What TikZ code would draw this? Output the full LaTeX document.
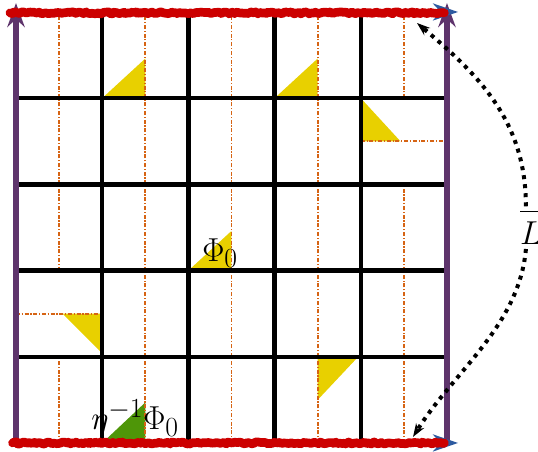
\documentclass[tikz,border=0pt]{standalone}
\usetikzlibrary{arrows.meta,decorations.pathmorphing}
\definecolor{gridpurple}{RGB}{94,52,108}
\definecolor{jagred}{RGB}{204,0,0}
\definecolor{tipblue}{RGB}{45,90,160}
\definecolor{dashorange}{RGB}{214,100,20}
\definecolor{triyellow}{RGB}{232,208,0}
\definecolor{trigreen}{RGB}{78,150,8}
\begin{document}
\begin{tikzpicture}[x=64.65pt,y=64.65pt,
  gridline/.style={line width=3.2pt, black},
  halfline/.style={draw=dashorange, line width=1.4pt, dash pattern=on 3pt off 1.3pt on 0.9pt off 1.3pt},
  sideline/.style={gridpurple, line width=4.5pt, -{Stealth[length=18pt,width=13pt,inset=6pt]}},
  bluetip/.style={tipblue, line width=1pt, -{Stealth[length=19pt,width=13pt,inset=6pt]}},
  jagline/.style={jagred, line width=6.5pt, line join=round, line cap=round, decorate, decoration={random steps,segment length=1.5pt,amplitude=0.8pt}},
  yellowtri/.style={fill=triyellow},
  greentri/.style={fill=trigreen},
  dotcurve/.style={black, line width=3pt, dash pattern=on 3pt off 3.8pt, -{Stealth[length=10pt,width=7pt]}},
  biglabel/.style={inner sep=0pt, anchor=base west, font=\fontsize{24.88}{30}\selectfont},
]
\useasboundingbox (-0.1856,-0.1044) rectangle (6.056,5.139);

% triangles
\fill[yellowtri] (1,4) -- (1.5,4) -- (1.5,4.46) -- cycle;
\fill[yellowtri] (3,4) -- (3.5,4) -- (3.5,4.46) -- cycle;
\fill[yellowtri] (4,4) -- (4,3.5) -- (4.46,3.5) -- cycle;
\fill[yellowtri] (2,2) -- (2.5,2) -- (2.5,2.46) -- cycle;
\fill[yellowtri] (0.54,1.5) -- (1,1.5) -- (1,1.04) -- cycle;
\fill[yellowtri] (3.5,1) -- (3.97,1) -- (3.5,0.5) -- cycle;
\fill[greentri] (1,0) -- (1.5,0) -- (1.5,0.47) -- cycle;

% orange dash-dot half lines
\foreach \r in {0,...,4}{
  \foreach \c in {0,...,4}{
    \pgfmathtruncatemacro{\omitcell}{(\c==4 && \r==3) || (\c==0 && \r==1) ? 1 : 0}
    \ifnum\omitcell=0
      \draw[halfline] (\c+0.5,\r) -- (\c+0.5,\r+1);
    \fi
  }
}
\draw[halfline] (4,3.5) -- (5,3.5);
\draw[halfline] (0,1.5) -- (1,1.5);

% black grid
\foreach \k in {1,...,4}{
  \draw[gridline] (0,\k) -- (5,\k);
  \draw[gridline] (\k,0) -- (\k,5);
}

% purple sides
\draw[sideline] (0,0) -- (0,5.104);
\draw[sideline] (5,0) -- (5,5.104);

% blue tips and red jagged lines
\draw[bluetip] (0,5) -- (5.128,5);
\draw[bluetip] (0,0) -- (5.128,0);
\draw[jagline] (-0.07,4.99) -- (4.97,4.99);
\draw[jagline] (-0.04,0) -- (4.97,0);

% labels
\node[biglabel] (phi) at (2.158,2.111) {$\Phi_0$};
\node[biglabel] (etaphi) at (0.87,0.151) {$\eta^{-1}\Phi_0$};
\node[biglabel, inner sep=3pt] (Lb) at (5.80,2.30) {$\overline{\rule{0pt}{0.95em}L}$};

% dotted curve
\coordinate (Ttip) at (4.652,4.872);
\coordinate (Btip) at (4.606,0.07);
\draw[dotcurve] ([xshift=-4pt]Lb.north) to[out=90, in=-40] (Ttip);
\draw[dotcurve] ([xshift=-4pt]Lb.south) to[out=-95, in=58, looseness=0.9] (Btip);
\end{tikzpicture}
\end{document}
